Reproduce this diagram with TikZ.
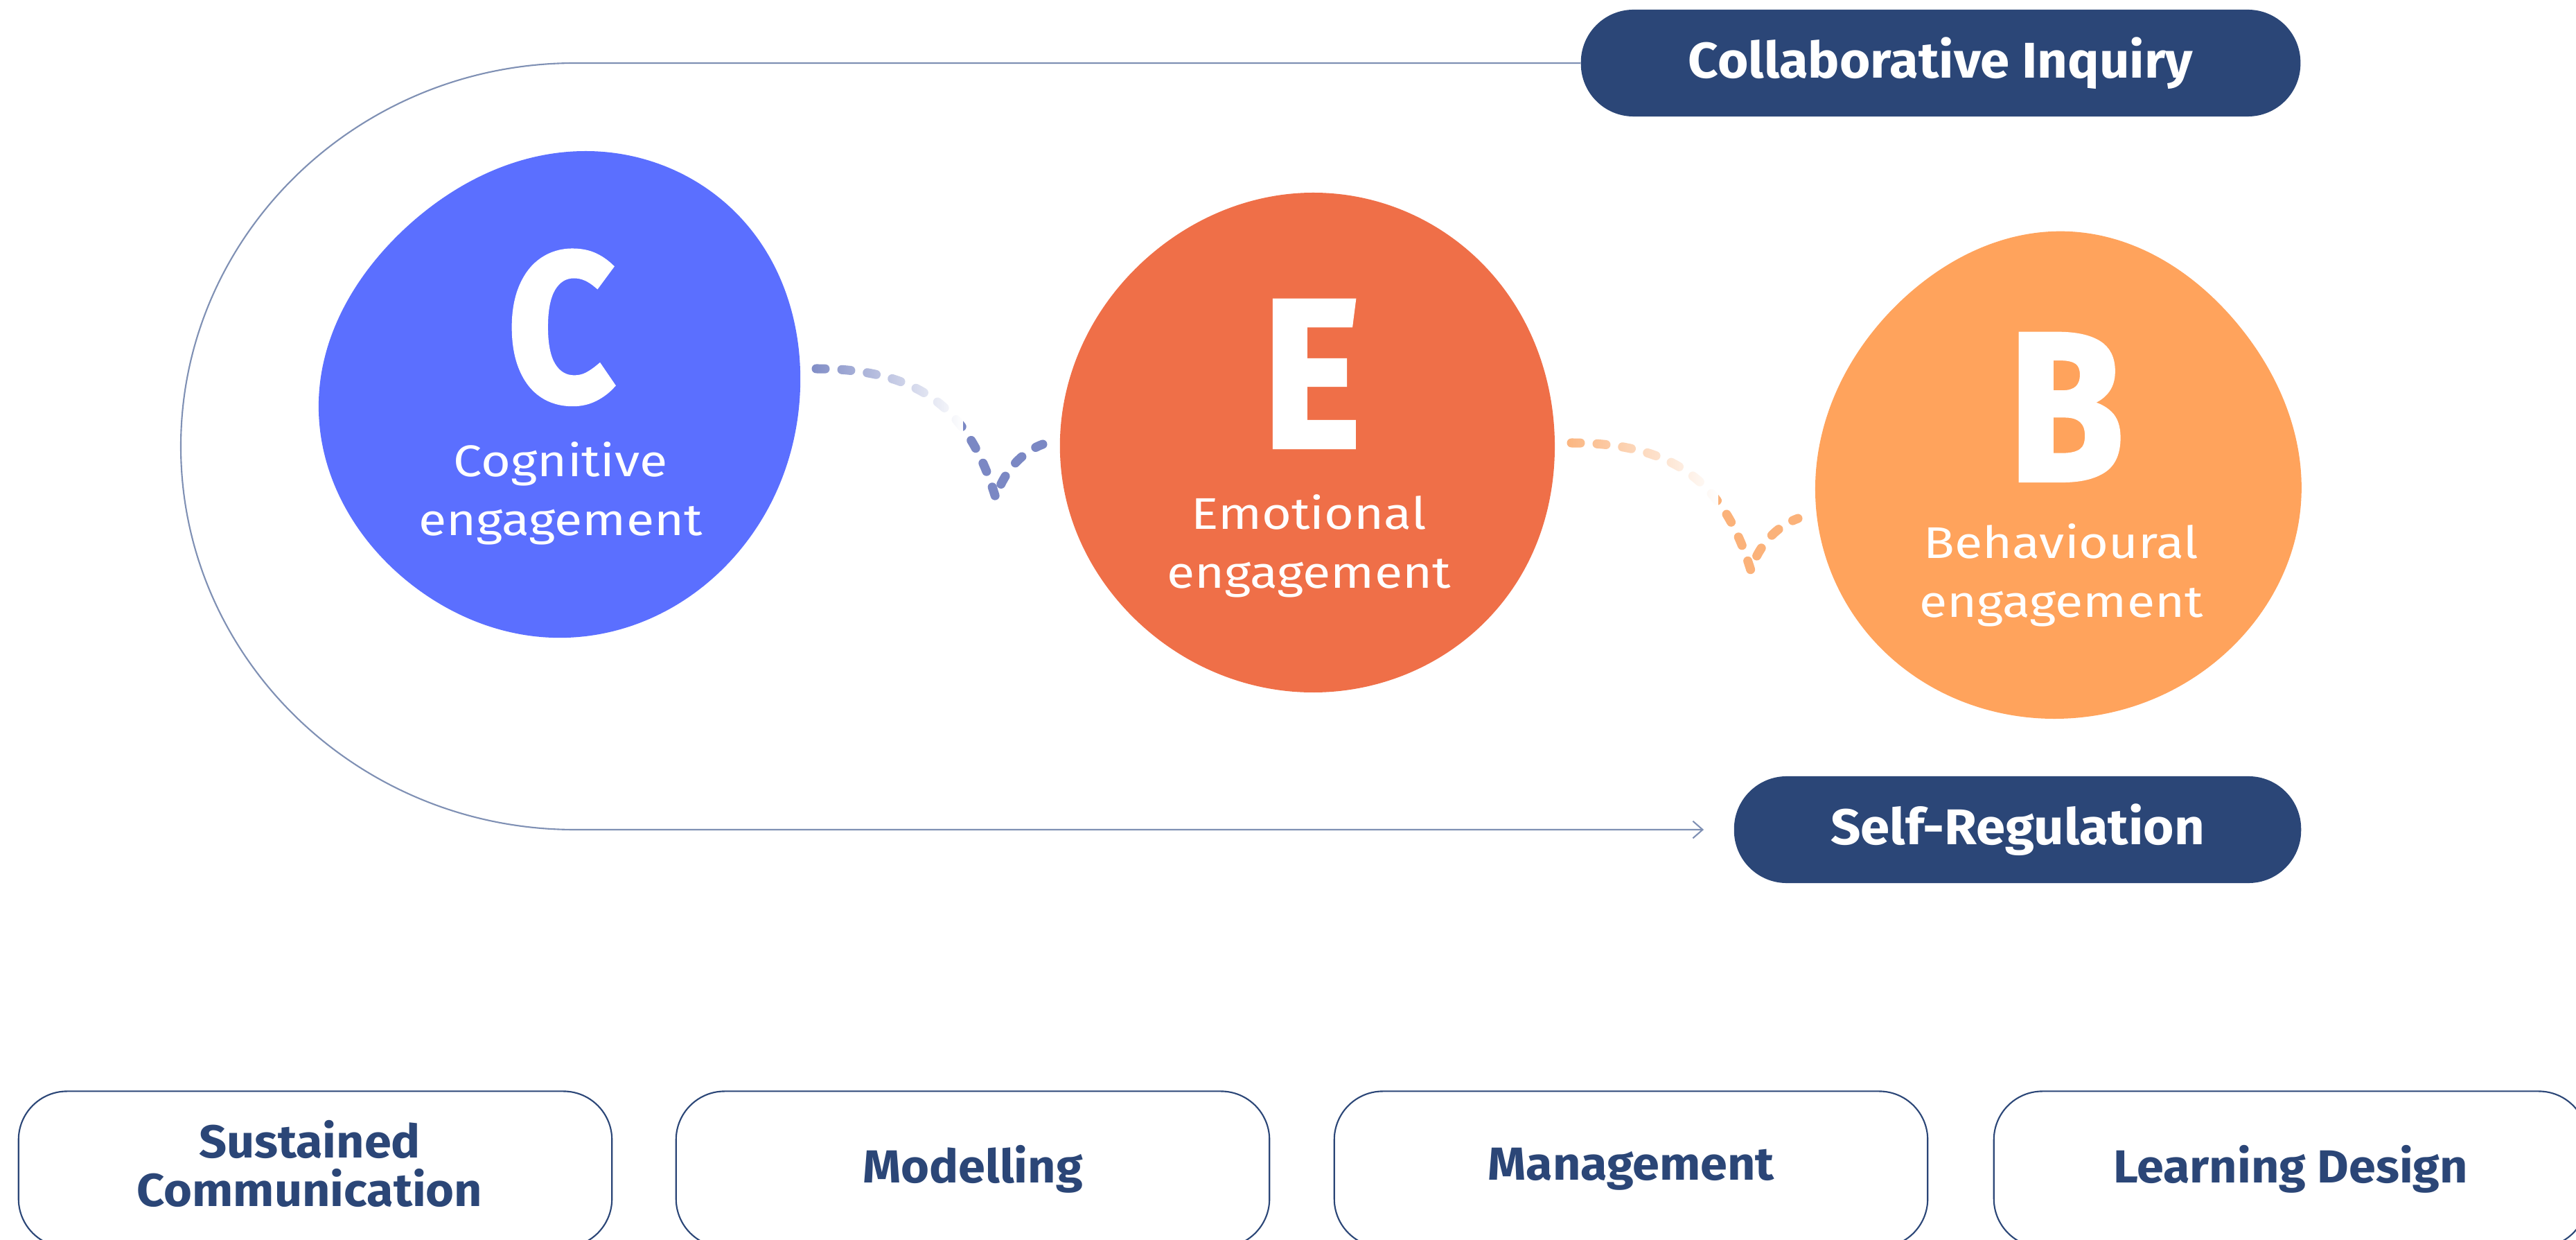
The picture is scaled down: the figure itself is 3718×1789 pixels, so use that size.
\documentclass[tikz,border=0pt]{standalone}
\usepackage{fontspec}
\setmainfont{Fira Sans}
\newfontfamily\labfont{Fira Sans}[FakeStretch=1.15]
\newfontfamily\pillfont{Fira Sans}[FakeStretch=1.05]
\newfontfamily\bigfont{Fira Sans}[FakeStretch=0.88,FakeBold=2]
\usetikzlibrary{arrows.meta,fadings,hobby}
\definecolor{navy}{HTML}{2B4677}
\definecolor{cblue}{HTML}{5B6FFF}
\definecolor{ered}{HTML}{EF6F48}
\definecolor{borange}{HTML}{FFA35C}
\definecolor{loopc}{HTML}{7F90B4}
\definecolor{dashblue}{HTML}{7B88C4}
\definecolor{dashorange}{HTML}{FBB27A}
\tikzset{
  pill/.style={fill=navy, text=white, rounded corners=0.76cm, minimum height=1.54cm, inner sep=0pt,
    font=\pillfont\bfseries\fontsize{20.6}{24}\selectfont},
  basebox/.style={draw=navy, line width=0.6pt, rounded corners=0.7cm, minimum width=8.56cm, minimum height=2.25cm,
    inner sep=0pt, text=navy, align=center, font=\pillfont\bfseries\fontsize{19}{19.9}\selectfont},
  boxlabel/.style={inner sep=0pt, text=navy, align=center, font=\pillfont\bfseries\fontsize{19}{19.9}\selectfont},
  bigletter/.style={text=white, inner sep=0pt, anchor=base, font=\bigfont\bfseries\fontsize{86.7}{90}\selectfont},
  blobtext/.style={text=white, inner sep=0pt, anchor=base, align=center, font=\labfont\fontsize{18.2}{24.2}\selectfont},
  loopline/.style={draw=loopc, line width=0.6pt},
  dashconn/.style={line width=0.13cm, line cap=round, dash pattern=on 0.13cm off 0.24cm},
  blob/.style={use Hobby shortcut, closed=true},
}
\begin{document}
\begin{tikzpicture}[x=0.01cm, y=-0.01cm]
\useasboundingbox (0,0) rectangle (3718,1789);
\clip (0,0) rectangle (3718,1789);
\fill[white] (0,0) rectangle (3718,1789);

% pills
\node[pill, minimum width=10.38cm] (CI) at (2801,91) {Collaborative Inquiry};
\node[pill, minimum width=8.18cm] (SR) at (2912,1197) {Self-Regulation};

% loop connector
\coordinate (lt) at (830,91);
\coordinate (lb) at (830,1197);
\draw[loopline, -{Straight Barb[length=4pt,width=7pt]}] (CI.west) -- (lt)
  .. controls (516,91) and (261,339) .. (261,644)
  .. controls (261,949) and (516,1197) .. (lb)
  -- ([xshift=-0.43cm]SR.west);

% blobs
\fill[cblue, blob] (846,218) .. (1077,323) .. (1155,559) .. (1101,747) .. (818,920)
  .. (600,848) .. (460,578) .. (582,332);
\fill[ered, blob] (1895,278) .. (2154,396) .. (2244,648) .. (2188,842) .. (1897,999)
  .. (1640,895) .. (1532,682) .. (1694,342);
\fill[borange, blob] (2987,334) .. (3230,468) .. (3321,726) .. (3220,935) .. (2963,1037)
  .. (2705,925) .. (2620,712) .. (2748,430);

% letters and labels
\node[bigletter] (Cl) at (810,578) {C};
\node[bigletter] (El) at (1893,645) {E};
\node[bigletter] (Bl) at (2982,693) {B};
\node[blobtext] (Ct) at (809,773) {Cognitive\\engagement};
\node[blobtext] (Et) at (1889,849) {Emotional\\engagement};
\node[blobtext] (Bt) at (2975,891) {Behavioural\\engagement};

% dashed connectors
\coordinate (ce1) at (1178,532);
\coordinate (ce2) at (1437,718);
\coordinate (ce3) at (1505,641);
\draw[dashconn, draw=dashblue] (ce1) .. controls (1333,532) and (1400,595) .. (ce2)
  .. controls (1449,680) and (1475,652) .. (ce3);
\fill[white, path fading=west] (1160,505) rectangle (1390,665);
\coordinate (eb1) at (2268,639);
\coordinate (eb2) at (2527,823);
\coordinate (eb3) at (2595,748);
\draw[dashconn, draw=dashorange] (eb1) .. controls (2423,639) and (2490,702) .. (eb2)
  .. controls (2539,785) and (2565,759) .. (eb3);
\fill[white, path fading=west] (2250,612) rectangle (2480,772);

% bottom boxes
\node[basebox] (SC) at (455,1687) {};
\node[boxlabel] (SCt) at (447,1679) {Sustained\\Communication};
\node[basebox] (MO) at (1404,1687) {Modelling};
\node[basebox] (MA) at (2354,1687) {Management};
\node[basebox] (LD) at (3306,1687) {Learning Design};
\end{tikzpicture}
\end{document}
